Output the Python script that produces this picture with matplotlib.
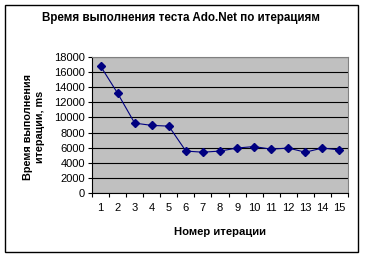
import matplotlib
matplotlib.use("Agg")
import matplotlib.pyplot as plt
from matplotlib.patches import Rectangle

iterations = list(range(1, 16))
times_ms = [16800, 13200, 9250, 8950, 8850, 5550, 5400, 5550, 5950, 6150, 5800, 5950, 5400, 5950, 5700]
y_ticks = list(range(0, 18001, 2000))
title = "Время выполнения теста Ado.Net по итерациям"
x_label = "Номер итерации"
y_label = "Время выполнения\nитерации, ms"

plt.rcParams['font.family'] = ['Liberation Sans', 'DejaVu Sans']

W, H = 365, 258
fig = plt.figure(figsize=(W / 100, H / 100), dpi=100)
fig.patch.set_facecolor('white')

# outer chart border
fig.patches.append(Rectangle((5 / W, 1 - 252 / H), (358 - 5) / W, (252 - 5) / H,
                             transform=fig.transFigure, fill=False,
                             edgecolor='black', linewidth=1.0))

l, r, t, b = 92, 348, 57, 193
ax = fig.add_axes([l / W, 1 - b / H, (r - l) / W, (b - t) / H])
ax.set_facecolor('#C0C0C0')

ax.plot(iterations, times_ms, color='#000080', linewidth=0.8,
        marker='D', markersize=4.5, markerfacecolor='#000080',
        markeredgecolor='#000080', zorder=3)

ax.set_xlim(0.5, 15.5)
ax.set_ylim(0, 18000)
ax.set_yticks(y_ticks)
ax.set_yticklabels([str(v) for v in y_ticks], fontsize=8)
ax.set_xticks(iterations)
ax.set_xticklabels([str(v) for v in iterations], fontsize=8)
ax.set_xticks([i + 0.5 for i in range(0, 16)], minor=True)
ax.tick_params(axis='x', which='major', length=0, pad=7)
ax.tick_params(axis='x', which='minor', length=3, direction='out', width=0.8)
ax.tick_params(axis='y', which='major', length=3, direction='out', width=0.8, pad=2)

ax.yaxis.grid(True, color='black', linewidth=0.8)
ax.set_axisbelow(True)

for s in ['top', 'right']:
    ax.spines[s].set_color('#808080')
    ax.spines[s].set_linewidth(0.8)
for s in ['left', 'bottom']:
    ax.spines[s].set_color('black')
    ax.spines[s].set_linewidth(0.8)

fig.text(0.5 * (5 + 358) / W, 1 - 18 / H, title, ha='center', va='center',
         fontsize=8.4, fontweight='bold')
fig.text((l + r) / 2 / W, 1 - 232 / H, x_label, ha='center', va='center',
         fontsize=8.1, fontweight='bold')
fig.text(34 / W, 1 - 127 / H, y_label, ha='center', va='center',
         fontsize=7.8, fontweight='bold', rotation=90, multialignment='center')

fig.savefig('out.png', dpi=100, facecolor='white')
